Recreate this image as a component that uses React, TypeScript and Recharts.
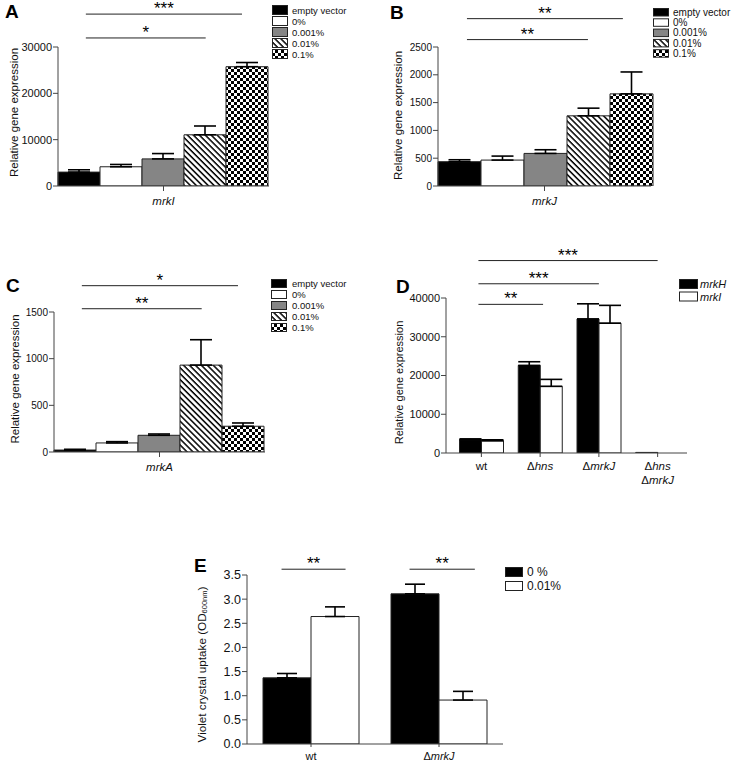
import React from 'react';
import { BarChart, Bar, XAxis, YAxis, ErrorBar, ReferenceLine, Legend } from 'recharts';

const FONT = '"Liberation Sans", Arial, Helvetica, sans-serif';
const AXIS_COLOR = '#444';
const BAR_EDGE = '#222';

// ---------------- data ----------------
const treatmentNames = ['empty vector', '0%', '0.001%', '0.01%', '0.1%'];

const geneA = ['mrkI'];
const meanA = [3000, 4150, 5850, 11050, 25750];
const errA = [500, 500, 1150, 1900, 900];
const ticksA = [0, 10000, 20000, 30000];

const geneB = ['mrkJ'];
const meanB = [437, 466, 586, 1262, 1657];
const errB = [35, 72, 66, 138, 394];
const ticksB = [0, 500, 1000, 1500, 2000, 2500];

const geneC = ['mrkA'];
const meanC = [21, 97, 179, 931, 276];
const errC = [8, 14, 14, 272, 35];
const ticksC = [0, 500, 1000, 1500];

const strainsD = ['wt', 'Δhns', 'ΔmrkJ', 'Δhns ΔmrkJ'];
const geneNamesD = ['mrkH', 'mrkI'];
const mrkH_D = [3450, 22600, 34600, 150];
const mrkH_errD: (number | null)[] = [200, 950, 3900, null];
const mrkI_D = [3150, 17200, 33500, 0];
const mrkI_errD: (number | null)[] = [250, 1800, 4600, null];
const ticksD = [0, 10000, 20000, 30000, 40000];

const strainsE = ['wt', 'ΔmrkJ'];
const concNamesE = ['0 %', '0.01%'];
const conc0E = [1.37, 3.11];
const conc0errE = [0.09, 0.2];
const conc001E = [2.64, 0.91];
const conc001errE = [0.2, 0.18];
const ticksE = [0, 0.5, 1, 1.5, 2, 2.5, 3, 3.5];

// significance brackets (x in bar/category units, y in data units)
const sigA = [
  { from: 0.66, to: 4.36, y: 37100, label: '***' },
  { from: 0.66, to: 3.5, y: 31950, label: '*' },
];
const sigB = [
  { from: 0.68, to: 4.34, y: 3010, label: '**' },
  { from: 0.68, to: 3.52, y: 2633, label: '**' },
];
const sigC = [
  { from: 0.66, to: 4.36, y: 1782, label: '*' },
  { from: 0.66, to: 3.5, y: 1535, label: '**' },
];
const sigD = [
  { from: 0.45, to: 3.5, y: 49660, label: '***' },
  { from: 0.45, to: 2.5, y: 43670, label: '***' },
  { from: 0.45, to: 1.55, y: 38360, label: '**' },
];
const sigE = [
  { from: 0.27, to: 0.77, y: 3.62, label: '**' },
  { from: 1.27, to: 1.78, y: 3.62, label: '**' },
];

// ---------------- builders ----------------
type Row = { [k: string]: any };

function singleGeneRows(gene: string, means: number[], errs: number[]): Row[] {
  const row: Row = { name: gene };
  means.forEach((m, i) => {
    row[`v${i}`] = m;
    row[`e${i}`] = [0, errs[i]];
  });
  return [row];
}

function groupedRows(cats: string[], vals: number[][], errs: (number | null)[][]): Row[] {
  return cats.map((c, ci) => {
    const row: Row = { name: c };
    vals.forEach((series, si) => {
      row[`v${si}`] = series[ci];
      const e = errs[si][ci];
      row[`e${si}`] = e == null ? null : [0, e];
    });
    return row;
  });
}

const treatmentFills = (id: string) => ['#000', '#fff', '#858585', `url(#hatch-${id})`, `url(#check-${id})`];

const patternDefs = (id: string) => (
  <defs>
    <pattern id={`hatch-${id}`} patternUnits="userSpaceOnUse" width="4.2" height="4.2" patternTransform="rotate(45)">
      <rect width="4.2" height="4.2" fill="#fff" />
      <rect width="4.2" height="1.5" fill="#000" />
    </pattern>
    <pattern id={`check-${id}`} patternUnits="userSpaceOnUse" width="6" height="6">
      <rect width="6" height="6" fill="#fff" />
      <rect width="3" height="3" fill="#000" />
      <rect x="3" y="3" width="3" height="3" fill="#000" />
    </pattern>
  </defs>
);

function geneText(ln: string) {
  if (ln === 'wt') return ln;
  if (ln.startsWith('Δ')) {
    return (
      <>
        <tspan>Δ</tspan>
        <tspan fontStyle="italic">{ln.slice(1)}</tspan>
      </>
    );
  }
  return <tspan fontStyle="italic">{ln}</tspan>;
}

const makeTick = (fontSize: number, lineGap: number) => (props: any) => {
  const { x, y, payload } = props;
  const lines = String(payload.value).split(' ');
  return (
    <g>
      {lines.map((ln, i) => (
        <text key={i} x={x} y={y + i * lineGap} dy="0.72em" textAnchor="middle" fontSize={fontSize} fontFamily={FONT} fill="#111">
          {geneText(ln)}
        </text>
      ))}
    </g>
  );
};

type LegendCfg = {
  names: string[];
  left: number;
  top: number;
  swW: number;
  swH: number;
  rowH: number;
  textDx: number;
  font: number;
  italic?: boolean;
  width: number;
};

const makeLegend = (cfg: LegendCfg) => (props: any) => {
  const items = [...(props.payload || [])].sort(
    (a: any, b: any) => cfg.names.indexOf(a.value) - cfg.names.indexOf(b.value)
  );
  return (
    <svg width={cfg.width} height={items.length * cfg.rowH + 4} style={{ display: 'block', overflow: 'visible' }}>
      {items.map((it: any, i: number) => {
        const y = i * cfg.rowH + 0.5;
        const fill = it.color || (it.payload && it.payload.fill);
        return (
          <g key={i}>
            <rect x={0.5} y={y} width={cfg.swW} height={cfg.swH} fill={fill} stroke={BAR_EDGE} strokeWidth={1} />
            <text
              x={cfg.textDx}
              y={y + cfg.swH / 2}
              dominantBaseline="central"
              fontSize={cfg.font}
              fontFamily={FONT}
              fontStyle={cfg.italic ? 'italic' : 'normal'}
              fill="#111"
            >
              {it.value}
            </text>
          </g>
        );
      })}
    </svg>
  );
};

type PanelCfg = {
  id: string;
  left: number;
  top: number;
  width: number;
  height: number;
  margin: { top: number; right: number; bottom: number; left: number };
  yAxisWidth: number;
  xAxisHeight: number;
  catGap: number;
  padLeft: number;
  posDomain: [number, number];
  yDomain: [number, number];
  yTicks: number[];
  yTickFont: number;
  yTickFmt?: (v: number) => string;
  yTitle: React.ReactNode;
  yTitleDx: number;
  yTitleDy: number;
  yTitleFont: number;
  xTickFont: number;
  xTickSize: number;
  xTickMargin: number;
  xLineGap: number;
  capHalf: number;
  legend: LegendCfg;
};

type SeriesDef = { key: string; err: string; name: string; fill: string };
type Sig = { from: number; to: number; y: number; label: string };

function Panel({ cfg, rows, series, sig }: { cfg: PanelCfg; rows: Row[]; series: SeriesDef[]; sig: Sig[] }) {
  const yTitle = (p: any) => {
    const vb = p.viewBox || { x: cfg.margin.left, y: cfg.margin.top, width: cfg.yAxisWidth, height: cfg.height - cfg.margin.top - cfg.margin.bottom - cfg.xAxisHeight };
    const cx = vb.x + cfg.yTitleDx;
    const cy = vb.y + vb.height / 2 + cfg.yTitleDy;
    return (
      <text
        x={cx}
        y={cy}
        transform={`rotate(-90, ${cx}, ${cy})`}
        textAnchor="middle"
        dominantBaseline="central"
        fontSize={cfg.yTitleFont}
        fontFamily={FONT}
        fill="#111"
      >
        {cfg.yTitle}
      </text>
    );
  };
  return (
    <div style={{ position: 'absolute', left: cfg.left, top: cfg.top }}>
      <BarChart
        width={cfg.width}
        height={cfg.height}
        data={rows}
        margin={cfg.margin}
        barGap={0}
        barCategoryGap={cfg.catGap}
      >
        {patternDefs(cfg.id)}
        <XAxis
          xAxisId="cat"
          dataKey="name"
          height={cfg.xAxisHeight}
          interval={0}
          padding={{ left: cfg.padLeft, right: 0 }}
          tickSize={cfg.xTickSize}
          tickMargin={cfg.xTickMargin}
          axisLine={{ stroke: AXIS_COLOR, strokeWidth: 1 }}
          tickLine={{ stroke: AXIS_COLOR, strokeWidth: 1 }}
          tick={makeTick(cfg.xTickFont, cfg.xLineGap)}
        />
        <XAxis
          xAxisId="pos"
          dataKey="pos"
          type="number"
          domain={cfg.posDomain}
          allowDataOverflow
          hide
          padding={{ left: cfg.padLeft, right: 0 }}
        />
        <YAxis
          width={cfg.yAxisWidth}
          domain={cfg.yDomain}
          ticks={cfg.yTicks}
          allowDataOverflow
          interval={0}
          tickSize={5}
          tickMargin={1}
          tickFormatter={cfg.yTickFmt}
          axisLine={{ stroke: AXIS_COLOR, strokeWidth: 1 }}
          tickLine={{ stroke: AXIS_COLOR, strokeWidth: 1 }}
          tick={{ fontSize: cfg.yTickFont, fontFamily: FONT, fill: '#111' }}
          label={{ content: yTitle }}
        />
        {series.map((s) => (
          <Bar
            key={s.key}
            xAxisId="cat"
            dataKey={s.key}
            name={s.name}
            fill={s.fill}
            stroke={BAR_EDGE}
            strokeWidth={1}
            isAnimationActive={false}
          >
            <ErrorBar dataKey={s.err} width={cfg.capHalf} stroke="#000" strokeWidth={1.6} direction="y" isAnimationActive={false} />
          </Bar>
        ))}
        {sig.map((s, i) => (
          <ReferenceLine
            key={`sig-${i}`}
            xAxisId="pos"
            segment={[
              { x: s.from, y: s.y },
              { x: s.to, y: s.y },
            ]}
            stroke="#222"
            strokeWidth={1}
            ifOverflow="visible"
            label={{ value: s.label, position: 'top', offset: 0, fill: '#000', fontSize: 17, fontFamily: FONT }}
          />
        ))}
        <Legend
          layout="vertical"
          align="center"
          verticalAlign="middle"
          wrapperStyle={{ left: cfg.legend.left, top: cfg.legend.top, width: cfg.legend.width, height: 70 }}
          content={makeLegend(cfg.legend)}
        />
      </BarChart>
    </div>
  );
}

// ---------------- panels ----------------
const seriesTreat = (id: string): SeriesDef[] =>
  treatmentNames.map((n, i) => ({ key: `v${i}`, err: `e${i}`, name: n, fill: treatmentFills(id)[i] }));

const cfgA: PanelCfg = {
  id: 'A', left: 0, top: 0, width: 370, height: 240,
  margin: { top: 47, right: 101, bottom: 24, left: 4 },
  yAxisWidth: 54, xAxisHeight: 30, catGap: 0, padLeft: 0, posDomain: [0, 5],
  yDomain: [0, 30000], yTicks: ticksA, yTickFont: 11,
  yTitle: 'Relative gene expression', yTitleDx: 10, yTitleDy: -4, yTitleFont: 11.5,
  xTickFont: 11.5, xTickSize: 5, xTickMargin: 6, xLineGap: 14, capHalf: 11,
  legend: { names: treatmentNames, left: 272, top: 5, swW: 15, swH: 9, rowH: 11, textDx: 20, font: 9.5, width: 100 },
};

const cfgB: PanelCfg = {
  id: 'B', left: 370, top: 0, width: 363, height: 240,
  margin: { top: 47, right: 82, bottom: 24, left: 4 },
  yAxisWidth: 64, xAxisHeight: 30, catGap: 0, padLeft: 0, posDomain: [0, 5],
  yDomain: [0, 2500], yTicks: ticksB, yTickFont: 10,
  yTitle: 'Relative gene expression', yTitleDx: 23.5, yTitleDy: -1, yTitleFont: 11.5,
  xTickFont: 11.5, xTickSize: 5, xTickMargin: 6, xLineGap: 14, capHalf: 11,
  legend: { names: treatmentNames, left: 283, top: 8, swW: 15, swH: 7.5, rowH: 10.3, textDx: 20, font: 10, width: 80 },
};

const cfgC: PanelCfg = {
  id: 'C', left: 0, top: 240, width: 370, height: 240,
  margin: { top: 72, right: 105, bottom: 2, left: 4 },
  yAxisWidth: 50, xAxisHeight: 26, catGap: 0, padLeft: 0, posDomain: [0, 5],
  yDomain: [0, 1500], yTicks: ticksC, yTickFont: 10,
  yTitle: 'Relative gene expression', yTitleDx: 11, yTitleDy: -3, yTitleFont: 11.5,
  xTickFont: 11.5, xTickSize: 5, xTickMargin: 6, xLineGap: 14, capHalf: 11,
  legend: { names: treatmentNames, left: 271, top: 39, swW: 15, swH: 8, rowH: 11, textDx: 21, font: 9.5, width: 100 },
};

const cfgD: PanelCfg = {
  id: 'D', left: 370, top: 240, width: 363, height: 250,
  margin: { top: 58, right: 46, bottom: 5, left: 4 },
  yAxisWidth: 72, xAxisHeight: 32, catGap: 7.5, padLeft: 6, posDomain: [0, 4],
  yDomain: [0, 40000], yTicks: ticksD, yTickFont: 11,
  yTitle: 'Relative gene expression', yTitleDx: 25, yTitleDy: 7, yTitleFont: 11,
  xTickFont: 11.5, xTickSize: 4, xTickMargin: 5, xLineGap: 14, capHalf: 11,
  legend: { names: geneNamesD, left: 309, top: 39, swW: 18, swH: 9, rowH: 12.5, textDx: 21, font: 11, italic: true, width: 60 },
};

const cfgE: PanelCfg = {
  id: 'E', left: 180, top: 480, width: 553, height: 282,
  margin: { top: 95, right: 230, bottom: 0, left: 4 },
  yAxisWidth: 63, xAxisHeight: 18, catGap: 16, padLeft: 0, posDomain: [0, 2],
  yDomain: [0, 3.5], yTicks: ticksE, yTickFont: 12.5, yTickFmt: (v: number) => v.toFixed(1),
  yTitle: (
    <>
      <tspan>Violet crystal uptake (OD</tspan>
      <tspan fontSize={7.5} dy={3}>600nm</tspan>
      <tspan dy={-3}>)</tspan>
    </>
  ),
  yTitleDx: 16.7, yTitleDy: 5, yTitleFont: 11.7,
  xTickFont: 11, xTickSize: 3, xTickMargin: 5, xLineGap: 14, capHalf: 10,
  legend: { names: concNamesE, left: 325, top: 87, swW: 17, swH: 9, rowH: 14, textDx: 22, font: 12, width: 80 },
};

const rowsA = singleGeneRows(geneA[0], meanA, errA);
const rowsB = singleGeneRows(geneB[0], meanB, errB);
const rowsC = singleGeneRows(geneC[0], meanC, errC);
const rowsD = groupedRows(strainsD, [mrkH_D, mrkI_D], [mrkH_errD, mrkI_errD]);
const rowsE = groupedRows(strainsE, [conc0E, conc001E], [conc0errE, conc001errE]);

const seriesD: SeriesDef[] = geneNamesD.map((n, i) => ({ key: `v${i}`, err: `e${i}`, name: n, fill: i === 0 ? '#000' : '#fff' }));
const seriesE: SeriesDef[] = concNamesE.map((n, i) => ({ key: `v${i}`, err: `e${i}`, name: n, fill: i === 0 ? '#000' : '#fff' }));

const panelLetters = [
  { t: 'A', left: 5, top: 2 },
  { t: 'B', left: 390, top: 2.5 },
  { t: 'C', left: 6, top: 275.5 },
  { t: 'D', left: 396, top: 276.5 },
  { t: 'E', left: 194, top: 555.5 },
];

export default function App() {
  return (
    <div style={{ position: 'absolute', left: 0, top: 0, width: 733, height: 762, background: '#fff', fontFamily: FONT, overflow: 'hidden' }}>
      <Panel cfg={cfgA} rows={rowsA} series={seriesTreat('A')} sig={sigA} />
      <Panel cfg={cfgB} rows={rowsB} series={seriesTreat('B')} sig={sigB} />
      <Panel cfg={cfgC} rows={rowsC} series={seriesTreat('C')} sig={sigC} />
      <Panel cfg={cfgD} rows={rowsD} series={seriesD} sig={sigD} />
      <Panel cfg={cfgE} rows={rowsE} series={seriesE} sig={sigE} />
      {panelLetters.map((p) => (
        <div
          key={p.t}
          style={{ position: 'absolute', left: p.left, top: p.top, fontSize: 19, fontWeight: 'bold', lineHeight: 1, fontFamily: FONT, color: '#000' }}
        >
          {p.t}
        </div>
      ))}
    </div>
  );
}
